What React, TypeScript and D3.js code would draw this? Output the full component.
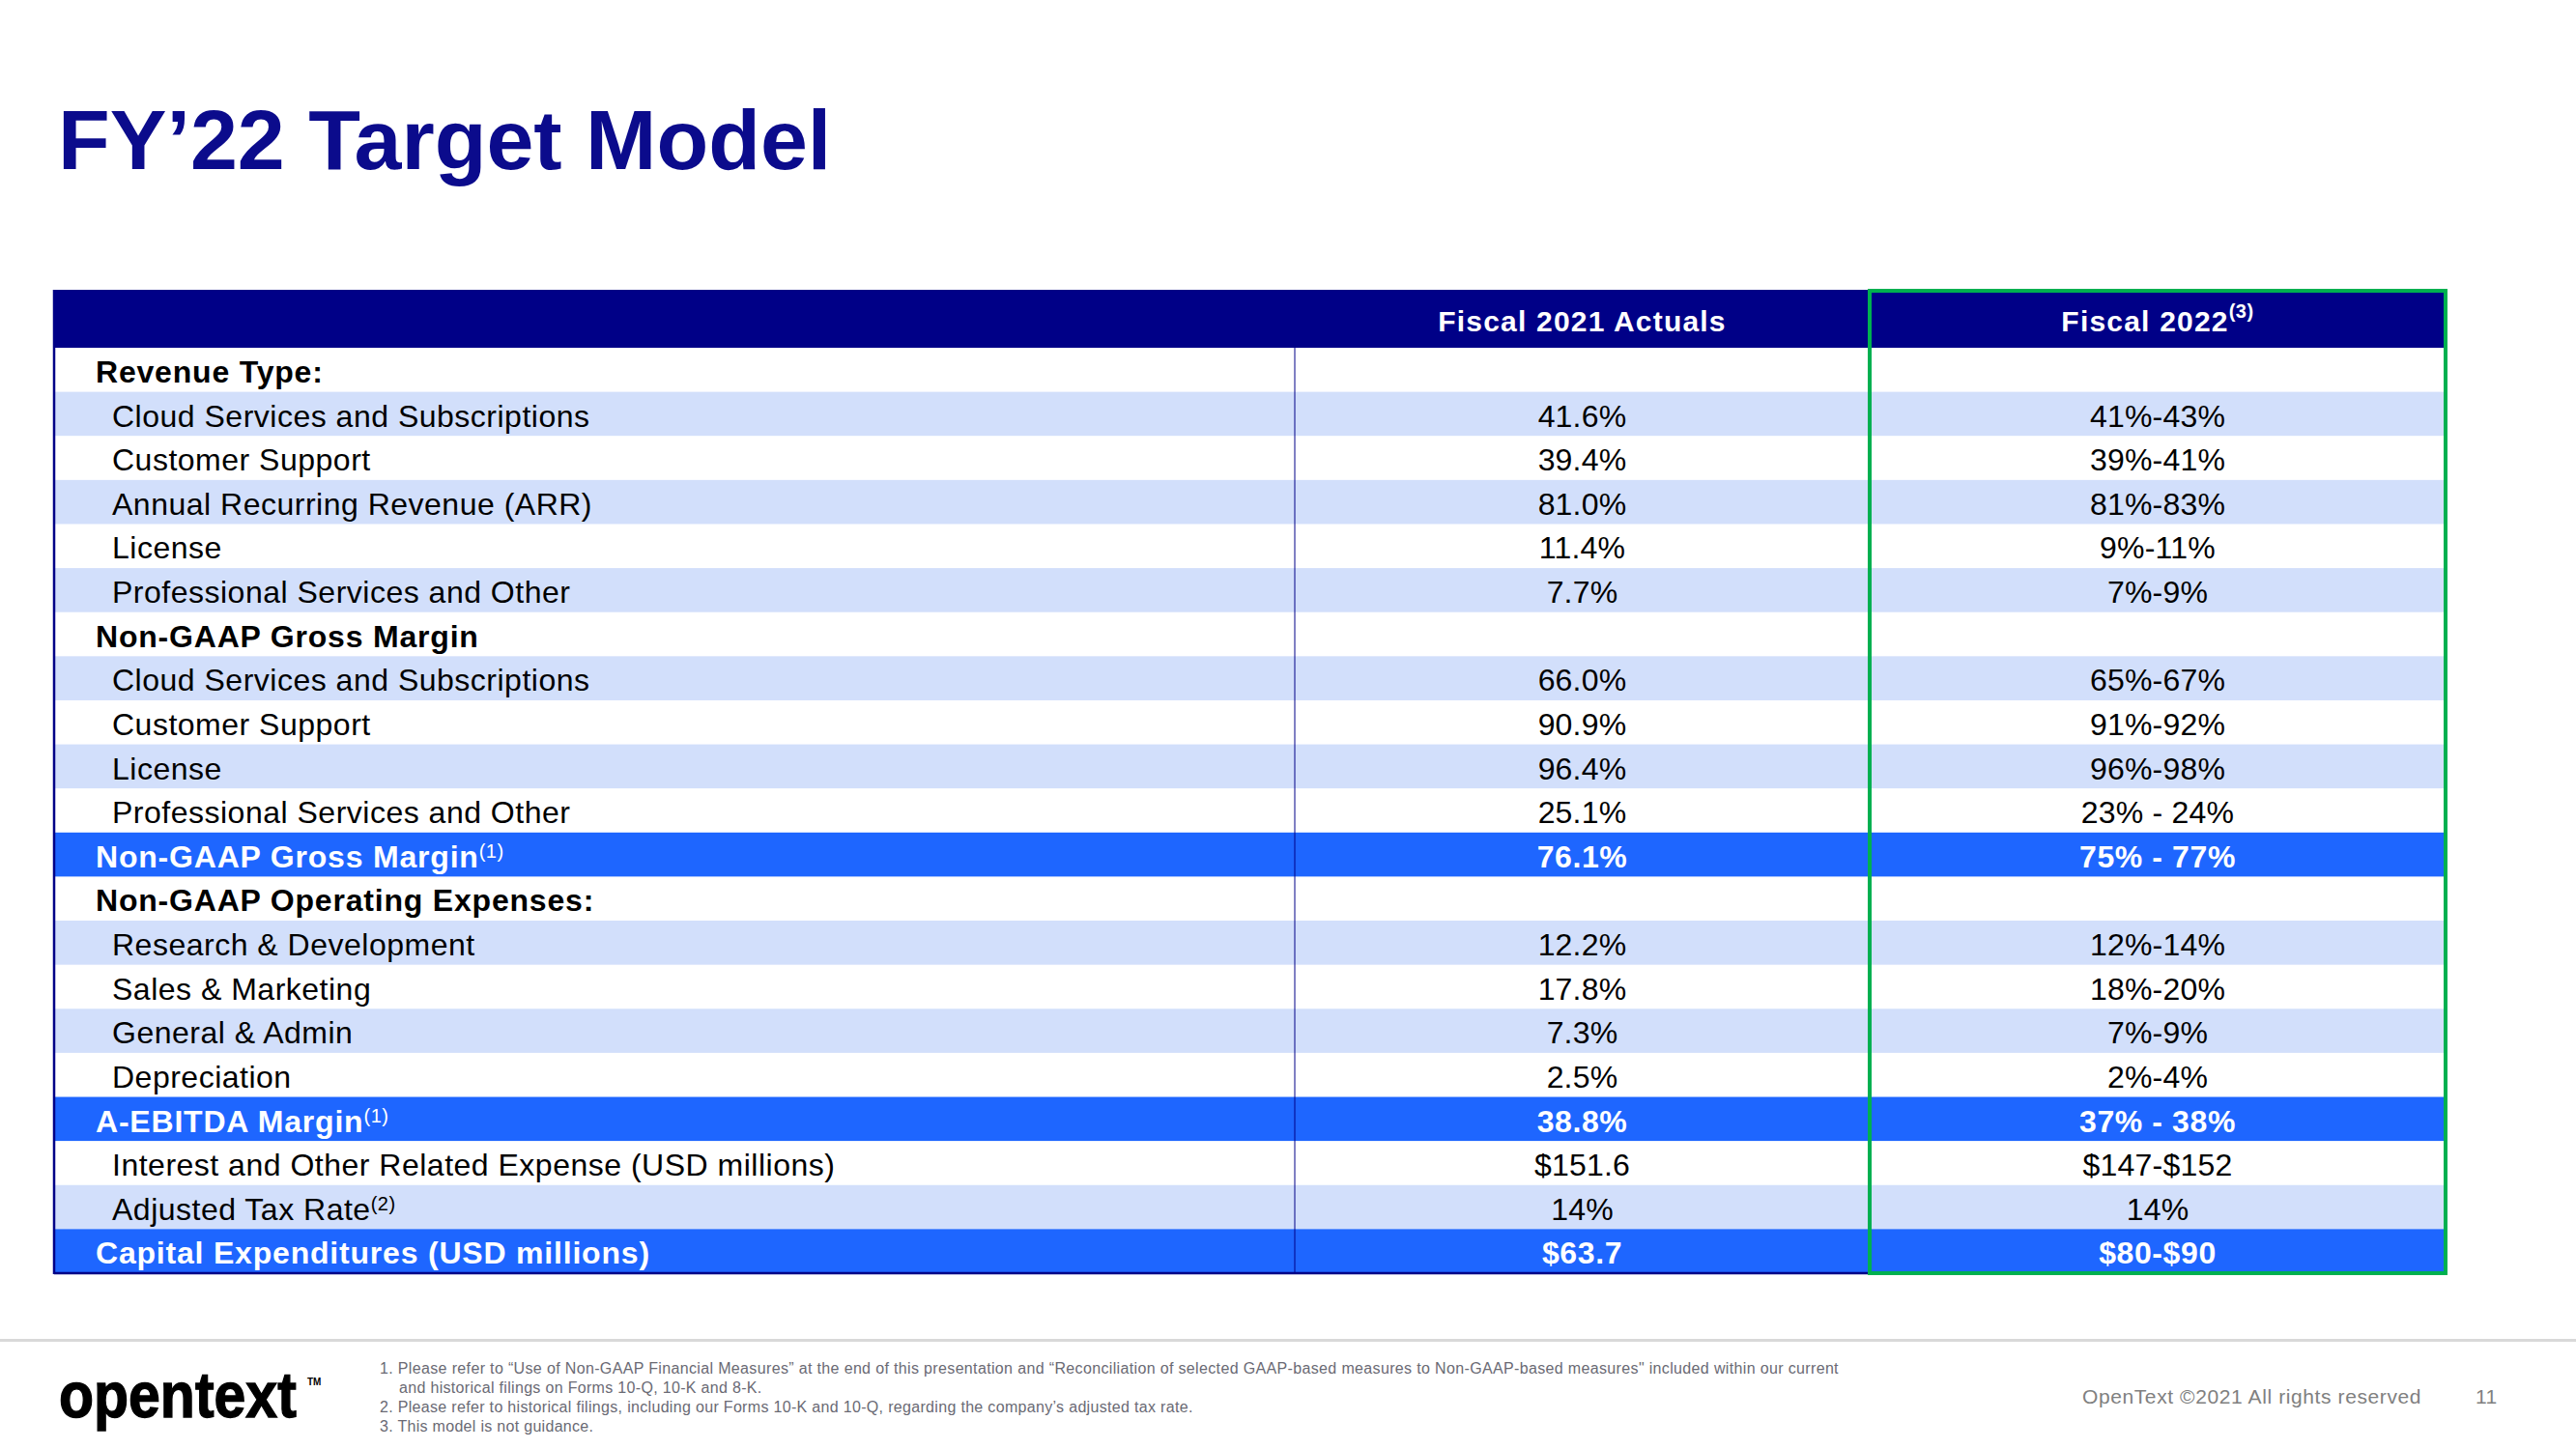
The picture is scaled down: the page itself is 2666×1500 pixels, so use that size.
import React from "react";
import * as d3 from "d3";

const title = "FY\u201922 Target Model";
const columnHeaders = ["Fiscal 2021 Actuals", "Fiscal 2022"];
const columnHeaderSup = ["", "(3)"];

const rowLabels = [
  "Revenue Type:",
  "Cloud Services and Subscriptions",
  "Customer Support",
  "Annual Recurring Revenue (ARR)",
  "License",
  "Professional Services and Other",
  "Non-GAAP Gross Margin",
  "Cloud Services and Subscriptions",
  "Customer Support",
  "License",
  "Professional Services and Other",
  "Non-GAAP Gross Margin",
  "Non-GAAP Operating Expenses:",
  "Research & Development",
  "Sales & Marketing",
  "General & Admin",
  "Depreciation",
  "A-EBITDA Margin",
  "Interest and Other Related Expense (USD millions)",
  "Adjusted Tax Rate",
  "Capital Expenditures (USD millions)",
];
const rowSup = ["", "", "", "", "", "", "", "", "", "", "", "(1)", "", "", "", "", "", "(1)", "", "(2)", ""];
const rowKinds = [
  "section", "item", "item", "item", "item", "item",
  "section", "item", "item", "item", "item",
  "highlight", "section", "item", "item", "item", "item",
  "highlight", "item", "item", "highlight",
];
const fy21Actuals = ["", "41.6%", "39.4%", "81.0%", "11.4%", "7.7%", "", "66.0%", "90.9%", "96.4%", "25.1%", "76.1%", "", "12.2%", "17.8%", "7.3%", "2.5%", "38.8%", "$151.6", "14%", "$63.7"];
const fy22Targets = ["", "41%-43%", "39%-41%", "81%-83%", "9%-11%", "7%-9%", "", "65%-67%", "91%-92%", "96%-98%", "23% - 24%", "75% - 77%", "", "12%-14%", "18%-20%", "7%-9%", "2%-4%", "37% - 38%", "$147-$152", "14%", "$80-$90"];

const footnotes = [
  "1. Please refer to \u201cUse of Non-GAAP Financial Measures\u201d at the end of this presentation and \u201cReconciliation of selected GAAP-based measures to Non-GAAP-based measures\" included within our current",
  "and historical filings on Forms 10-Q, 10-K and 8-K.",
  "2. Please refer to historical filings, including our Forms 10-K and 10-Q, regarding the company\u2019s adjusted tax rate.",
  "3. This model is not guidance.",
];
const footnoteSpacing = [0.35, 0.32, 0.32, 0.3];
const copyright = "OpenText \u00a92021 All rights reserved";
const pageNumber = "11";

const FONT = "'Liberation Sans', Arial, Helvetica, sans-serif";
const NAVY = "#000087";
const TITLE = "#0b0b8c";
const BAND = "#d2dffb";
const HIGH = "#1e66ff";
const GREEN = "#00b050";

export default function App() {
  const W = 2666, H = 1500;
  const left = 56, c1 = 1340, c2 = 1935, right = 2531;
  const headTop = 300, headBottom = 360, bottom = 1318;

  const y = d3.scaleBand<number>().domain(d3.range(rowLabels.length)).range([headBottom, bottom]);
  const colCenter = d3.scaleOrdinal<number, number>().domain([0, 1]).range([(c1 + c2) / 2, (c2 + right) / 2]);
  const rh = y.bandwidth();

  return (
    <svg width={W} height={H} style={{ position: "absolute", left: 0, top: 0, background: "#fff" }} fontFamily={FONT}>
      <rect x={0} y={0} width={W} height={H} fill="#fff" />
      <text x={60} y={175} fontSize={88} fontWeight="bold" fill={TITLE}>{title}</text>

      {/* header */}
      <rect x={left} y={headTop} width={right - left} height={headBottom - headTop} fill={NAVY} />
      {columnHeaders.map((h, i) => (
        <text key={i} x={colCenter(i)} y={343} fontSize={30} fontWeight="bold" fill="#fff" textAnchor="middle" letterSpacing={1.2}>
          {h}
          {columnHeaderSup[i] ? <tspan fontSize={20} dy={-14} letterSpacing={0.5}>{columnHeaderSup[i]}</tspan> : null}
        </text>
      ))}

      {/* rows */}
      {rowLabels.map((lab, i) => {
        const kind = rowKinds[i];
        const top = y(i) as number;
        const fill = kind === "highlight" ? HIGH : i % 2 === 1 ? BAND : "#fff";
        const bold = kind !== "item";
        const txtColor = kind === "highlight" ? "#fff" : "#000";
        const base = top + 36;
        return (
          <g key={i}>
            <rect x={left} y={top} width={right - left} height={rh + 0.5} fill={fill} />
            <text x={bold ? 99 : 116} y={base} fontSize={32} fontWeight={bold ? "bold" : "normal"} fill={txtColor} letterSpacing={bold ? 0.8 : 0.5}>
              {lab}
              {rowSup[i] ? <tspan fontSize={20} fontWeight="normal" dy={-10} letterSpacing={0.5}>{rowSup[i]}</tspan> : null}
            </text>
            {[fy21Actuals[i], fy22Targets[i]].map((v, j) => v ? (
              <text key={j} x={colCenter(j)} y={base} fontSize={32} fontWeight={kind === "highlight" ? "bold" : "normal"} fill={txtColor} textAnchor="middle" letterSpacing={kind === "highlight" ? 0.6 : 0.2}>
                {v}
              </text>
            ) : null)}
          </g>
        );
      })}

      {/* borders */}
      <line x1={left} x2={left} y1={headTop} y2={bottom + 1} stroke={NAVY} strokeWidth={2.5} />
      <line x1={left} x2={c2} y1={bottom} y2={bottom} stroke={NAVY} strokeWidth={2.5} />
      <line x1={c1} x2={c1} y1={headBottom} y2={bottom} stroke={NAVY} strokeWidth={1} />
      <rect x={c2} y={headTop + 1} width={right - c2} height={bottom - headTop - 1} fill="none" stroke={GREEN} strokeWidth={4} />

      {/* footer */}
      <rect x={0} y={1386} width={W} height={3} fill="#d9d9d9" />
      <text transform="translate(61,1467) scale(1,1.12)" fontSize={59} fontWeight="bold" fill="#000" stroke="#000" strokeWidth={1.2}>opentext</text>
      <text x={318} y={1434} fontSize={10} fontWeight="bold" fill="#000">TM</text>
      {footnotes.map((f, i) => (
        <text key={i} x={i === 1 ? 413 : 393} y={1422 + i * 20} fontSize={16} fill="#6a6a74" letterSpacing={footnoteSpacing[i]}>{f}</text>
      ))}
      <text x={2155} y={1453} fontSize={21} fill="#808080" letterSpacing={0.6}>{copyright}</text>
      <text x={2562} y={1453} fontSize={21} fill="#808080" letterSpacing={0.5}>{pageNumber}</text>
    </svg>
  );
}
